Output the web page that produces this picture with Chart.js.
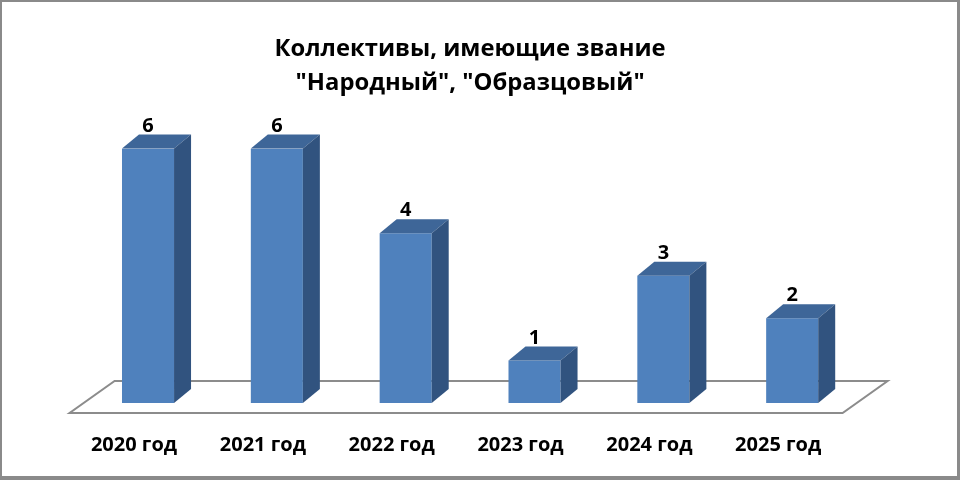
<!DOCTYPE html>
<html>
<head>
<meta charset="utf-8">
<script src="https://cdn.jsdelivr.net/npm/chart.js@4.4.1/dist/chart.umd.min.js"></script>
<style>
  html, body { margin: 0; padding: 0; background: #fff; }
  #wrap { width: 960px; height: 480px; }
</style>
</head>
<body>
<div id="wrap"><canvas id="chart"></canvas></div>
<script>
// data
const years = ["2020 год", "2021 год", "2022 год", "2023 год", "2024 год", "2025 год"];
const collectives = [6, 6, 4, 1, 3, 2];
const titleLines = ["Коллективы, имеющие звание", "\"Народный\", \"Образцовый\""];

// 3D look
const depthX = 17;
const depthY = 14;
const frontColor = "#4F81BD";
const topColor = "#3E6698";
const sideColor = "#31537F";

const framePlugin = {
  id: "frame",
  beforeDraw(chart) {
    const ctx = chart.ctx;
    ctx.save();
    ctx.fillStyle = "#8a8a8a";
    ctx.fillRect(0, 0, chart.width, chart.height);
    ctx.fillStyle = "#ffffff";
    ctx.fillRect(2, 2, chart.width - 5, chart.height - 6);
    ctx.restore();
  }
};

// floor under the bars
const floorPlugin = {
  id: "floor",
  beforeDatasetsDraw(chart) {
    const { ctx, chartArea } = chart;
    const base = chartArea.bottom;
    ctx.save();
    ctx.strokeStyle = "#8c8c8c";
    ctx.lineWidth = 2;
    ctx.beginPath();
    ctx.moveTo(chartArea.left - 14, base + 10);
    ctx.lineTo(chartArea.right - 14, base + 10);
    ctx.lineTo(chartArea.right + 31, base - 22);
    ctx.lineTo(chartArea.left + 31, base - 22);
    ctx.closePath();
    ctx.stroke();
    ctx.restore();
  }
};

// top and side faces + value labels
const boxPlugin = {
  id: "box3d",
  afterDatasetsDraw(chart) {
    const ctx = chart.ctx;
    const meta = chart.getDatasetMeta(0);
    ctx.save();
    meta.data.forEach((bar, i) => {
      const l = bar.x - bar.width / 2;
      const r = bar.x + bar.width / 2;
      const y = bar.y;
      const b = bar.base;

      ctx.fillStyle = topColor;
      ctx.beginPath();
      ctx.moveTo(l, y);
      ctx.lineTo(l + depthX, y - depthY);
      ctx.lineTo(r + depthX, y - depthY);
      ctx.lineTo(r, y);
      ctx.closePath();
      ctx.fill();

      ctx.fillStyle = sideColor;
      ctx.beginPath();
      ctx.moveTo(r, y);
      ctx.lineTo(r + depthX, y - depthY);
      ctx.lineTo(r + depthX, b - depthY);
      ctx.lineTo(r, b);
      ctx.closePath();
      ctx.fill();

      ctx.fillStyle = "#000";
      ctx.font = "bold 20px 'Open Sans'";
      ctx.textAlign = "center";
      ctx.textBaseline = "alphabetic";
      ctx.fillText(String(collectives[i]), bar.x, y - depthY - 3);
    });
    ctx.restore();
  }
};

new Chart(document.getElementById("chart"), {
  type: "bar",
  data: {
    labels: years,
    datasets: [{
      data: collectives,
      backgroundColor: frontColor,
      borderWidth: 0,
      categoryPercentage: 1,
      barPercentage: 0.404
    }]
  },
  options: {
    responsive: true,
    maintainAspectRatio: false,
    animation: false,
    layout: { padding: { left: 83.6, right: 103.4, top: 0, bottom: 22 } },
    plugins: {
      legend: { display: false },
      tooltip: { enabled: false },
      title: {
        display: true,
        text: titleLines,
        color: "#000",
        font: { family: "'Open Sans'", size: 23.8, weight: "bold", lineHeight: 1.44 },
        padding: { top: 32, bottom: 48 }
      }
    },
    scales: {
      x: {
        grid: { display: false, drawTicks: false },
        border: { display: false },
        afterFit(scale) { scale.height = 55; },
        ticks: {
          color: "#000",
          padding: 30,
          labelOffset: -14,
          font: { family: "'Open Sans'", size: 20, weight: "bold" }
        }
      },
      y: {
        display: false,
        min: 0,
        max: 6
      }
    }
  },
  plugins: [framePlugin, floorPlugin, boxPlugin]
});
</script>
</body>
</html>
